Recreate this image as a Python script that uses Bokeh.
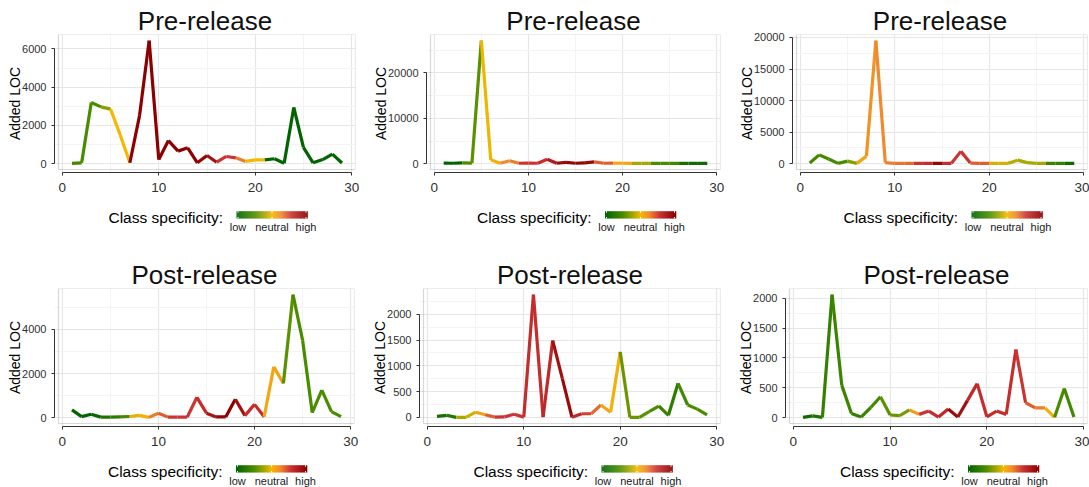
import numpy as np
from bokeh.plotting import figure
from bokeh.layouts import column, row
from bokeh.models import Range1d, FixedTicker, BoxAnnotation, Title
from bokeh.embed import file_html
from bokeh.resources import INLINE
from bokeh.core.properties import value

# ---------------- data ----------------
x_days = list(range(1, 30))

pre1_loc = [20, 50, 3200, 2970, 2850, 1500, 50, 2500, 6430, 220, 1210, 660, 830, 50, 430,
            80, 380, 310, 120, 200, 200, 260, 30, 2940, 860, 50, 220, 500, 40]
pre1_spec = [-0.55, -0.5, -0.5, -0.3, 0.0, 0.0, 1.0, 1.0, 1.0, 1.0, 1.0, 1.0, 1.0, 0.95, 0.85,
             0.55, 0.55, 0.3, 0.0, 0.0, -1.0, -1.0, -1.0, -1.0, -1.0, -1.0, -1.0, -1.0, -1.0]

pre2_loc = [150, 100, 200, 150, 27100, 870, 100, 650, 100, 150, 100, 1000, 100, 300, 100,
            200, 400, 100, 150, 100, 80, 80, 80, 80, 80, 80, 80, 80, 80]
pre2_spec = [-1.0, -1.0, -0.5, -0.45, -0.02, 0.05, 0.25, 0.3, 0.55, 0.55, 0.6, 0.75, 0.9, 0.95, 0.95,
             0.9, 0.4, 0.4, 0.1, 0.1, -0.2, -0.2, -0.5, -0.5, -0.55, -0.85, -0.9, -0.9, -0.9]

pre3_loc = [100, 1400, 750, 50, 400, 50, 1200, 19500, 150, 50, 50, 50, 50, 50, 50,
            50, 1950, 100, 50, 50, 50, 50, 560, 170, 50, 50, 50, 50, 50]
pre3_spec = [-0.55, -0.55, -0.55, -0.5, -0.3, 0.1, 0.2, 0.25, 0.3, 0.32, 0.35, 0.55, 0.6, 0.95, 0.6,
             0.55, 0.55, 0.4, 0.4, -0.08, -0.08, -0.15, -0.2, -0.2, -0.2, -0.6, -0.65, -0.9, -0.9]

post1_loc = [350, 45, 150, 20, 20, 30, 50, 100, 10, 200, 20, 20, 20, 920, 200,
             30, 30, 830, 90, 600, 40, 2300, 1550, 5580, 3510, 230, 1250, 270, 40]
post1_spec = [-1.0, -1.0, -0.95, -0.8, -0.7, -0.55, -0.05, 0.05, 0.3, 0.4, 0.55, 0.55, 0.55, 0.6, 0.8,
              0.95, 1.0, 0.85, 0.6, 0.6, 0.1, 0.12, -0.45, -0.5, -0.5, -0.5, -0.5, -0.5, -0.5]

post2_loc = [20, 40, 0, 0, 100, 50, 5, 10, 60, 5, 2380, 5, 1490, 750, 0,
             70, 70, 240, 100, 1270, 0, 0, 110, 220, 40, 660, 240, 160, 50]
post2_spec = [-0.85, -0.75, -0.2, -0.1, 0.12, 0.4, 0.55, 0.55, 0.55, 0.6, 0.6, 0.65, 0.85, 0.9, 0.65,
              0.5, 0.35, 0.12, 0.05, -0.4, -0.4, -0.45, -0.5, -0.6, -0.7, -0.55, -0.5, -0.5, -0.5]

post3_loc = [5, 30, 5, 2060, 545, 70, 10, 170, 350, 45, 35, 130, 55, 110, 10,
             145, 10, 290, 570, 15, 110, 55, 1140, 250, 165, 165, 5, 490, 10]
post3_spec = [-0.9, -0.8, -0.65, -0.6, -0.6, -0.65, -0.6, -0.55, -0.45, -0.4, -0.35, 0.15, 0.55, 0.6, 0.65,
              0.9, 0.85, 0.65, 0.6, 0.6, 0.6, 0.6, 0.55, 0.4, 0.3, 0.05, -0.5, -0.55, -0.55]

x_ticks = [0, 10, 20, 30]
x_minor = [5, 15, 25]
pre1_yticks, pre1_yminor = [0, 2000, 4000, 6000], [1000, 3000, 5000]
pre2_yticks, pre2_yminor = [0, 10000, 20000], [5000, 15000, 25000]
pre3_yticks, pre3_yminor = [0, 5000, 10000, 15000, 20000], [2500, 7500, 12500, 17500]
post1_yticks, post1_yminor = [0, 2000, 4000], [1000, 3000, 5000]
post2_yticks, post2_yminor = [0, 500, 1000, 1500, 2000], [250, 750, 1250, 1750, 2250]
post3_yticks, post3_yminor = [0, 500, 1000, 1500, 2000], [250, 750, 1250, 1750]

legend_labels = ["low", "neutral", "high"]

# ---------------- styling helpers ----------------
FONT = "Liberation Sans"
STOPS = [(-1.0, (0, 100, 0)), (-0.5, (74, 140, 0)), (-0.2, (168, 168, 0)), (0.0, (245, 184, 0)),
         (0.25, (240, 138, 44)), (0.55, (204, 51, 51)), (1.0, (139, 0, 0))]


def spec_color(s):
    s = max(-1.0, min(1.0, s))
    for (a, ca), (b, cb) in zip(STOPS[:-1], STOPS[1:]):
        if s <= b:
            t = (s - a) / (b - a)
            c = tuple(int(round(ca[i] + t * (cb[i] - ca[i]))) for i in range(3))
            return "#%02x%02x%02x" % c
    return "#8b0000"


CELL_W = 363


def main_fig(title, loc, spec, yticks, yminor, box_l, box_r, top_pad):
    bottom_pad = 28
    frame_h = 138
    H = top_pad + frame_h + bottom_pad
    frame_l = box_l - 4
    xs = np.array(x_days, float)
    ys = np.array(loc, float)
    xlo = xs.min() - 0.05 * (xs.max() - xs.min())
    xhi = xs.max() + 0.05 * (xs.max() - xs.min())
    ylo = ys.min() - 0.05 * (ys.max() - ys.min())
    yhi = ys.max() + 0.05 * (ys.max() - ys.min())
    box_w = box_r - box_l
    x_start = xlo - 4 * (xhi - xlo) / box_w
    y_start = ylo - 3 * (yhi - ylo) / (frame_h - 3)

    ttl = Title(text=title, text_font=FONT, text_font_size="26px", text_font_style="normal",
                align="center", text_color="#111111", standoff=-3)
    p = figure(width=CELL_W, height=H, x_range=Range1d(x_start, xhi), y_range=Range1d(y_start, yhi),
               output_backend="svg", toolbar_location=None, title=ttl,
               min_border_left=frame_l, min_border_right=CELL_W - box_r,
               min_border_top=top_pad, min_border_bottom=bottom_pad,
               outline_line_color=None, background_fill_color="white")

    # grid
    p.xaxis.ticker = FixedTicker(ticks=x_ticks, minor_ticks=x_minor)
    p.yaxis.ticker = FixedTicker(ticks=yticks, minor_ticks=yminor)
    for g in (p.xgrid, p.ygrid):
        g.grid_line_color = "#e6e6e6"
        g.grid_line_width = 1.2
        g.minor_grid_line_color = "#f4f4f4"
        g.minor_grid_line_width = 1

    # panel border
    p.add_layout(BoxAnnotation(left=xlo, right=xhi, bottom=ylo, top=yhi, fill_alpha=0,
                               line_color="#7f7f7f", line_width=1.2, level="underlay"))

    # line segments coloured by class specificity
    cols = [spec_color(s) for s in spec[:-1]]
    p.segment(x0=xs[:-1], y0=ys[:-1], x1=xs[1:], y1=ys[1:], line_color=cols, line_width=3.2)

    # axes
    p.xaxis.bounds = (x_ticks[0], x_ticks[-1])
    p.yaxis.bounds = (yticks[0], yticks[-1])
    for ax in (p.xaxis[0], p.yaxis[0]):
        ax.axis_line_color = "#333333"
        ax.major_tick_line_color = "#333333"
        ax.major_tick_in = 0
        ax.major_tick_out = 3
        ax.minor_tick_line_color = None
        ax.major_label_text_font = FONT
        ax.major_label_text_color = "#303030"
        ax.major_label_standoff = 4
    p.xaxis.major_label_standoff = 6
    p.xaxis.major_label_text_font_size = "13.5px"
    p.yaxis.major_label_text_font_size = "11px"
    p.yaxis.axis_label = "Added LOC"
    p.yaxis.axis_label_text_font = FONT
    p.yaxis.axis_label_text_font_size = "14px"
    p.yaxis.axis_label_text_font_style = "normal"
    p.yaxis.axis_label_text_color = "black"
    p.yaxis.axis_label_standoff = -4
    return p


def legend_fig(height, box_l, box_r):
    frame_l = box_l - 4
    cx = (box_l + box_r) / 2.0
    lf = figure(width=CELL_W, height=height, x_range=Range1d(frame_l, box_r), y_range=Range1d(height, 0),
                output_backend="svg", toolbar_location=None, x_axis_type=None, y_axis_type=None,
                min_border_left=frame_l, min_border_right=CELL_W - box_r,
                min_border_top=0, min_border_bottom=0, outline_line_color=None)
    lf.grid.visible = False
    lf.text(x=[cx + 16], y=[17.3], text=["Class specificity:"], text_font=value(FONT),
            text_font_size=value("15.5px"), text_align="right", text_baseline="middle",
            text_color="black")
    bl, br = cx + 29.5, cx + 100.5
    n = 71
    edges = np.linspace(bl, br, n + 1)
    tvals = np.linspace(-1, 1, n)
    lf.quad(left=edges[:-1], right=edges[1:] + 0.3, top=10.7, bottom=18,
            fill_color=[spec_color(t) for t in tvals], line_color=None)
    tick_x = [bl + 1.5, (bl + br) / 2, br - 1.5]
    lf.segment(x0=tick_x, x1=tick_x, y0=[10.7] * 3, y1=[12.2] * 3, line_color="white", line_width=1)
    lf.segment(x0=tick_x, x1=tick_x, y0=[16.5] * 3, y1=[18] * 3, line_color="white", line_width=1)
    lf.text(x=tick_x, y=[26.5] * 3, text=legend_labels, text_font=value(FONT),
            text_font_size=value("11px"), text_align="center", text_baseline="middle",
            text_color="#1a1a1a")
    return lf


panels = [
    ("Pre-release", pre1_loc, pre1_spec, pre1_yticks, pre1_yminor, 58, 355),
    ("Pre-release", pre2_loc, pre2_spec, pre2_yticks, pre2_yminor, 67, 357),
    ("Pre-release", pre3_loc, pre3_spec, pre3_yticks, pre3_yminor, 70, 361),
    ("Post-release", post1_loc, post1_spec, post1_yticks, post1_yminor, 58, 354),
    ("Post-release", post2_loc, post2_spec, post2_yticks, post2_yminor, 60, 357),
    ("Post-release", post3_loc, post3_spec, post3_yticks, post3_yminor, 63, 361),
]

rows = []
for r in range(2):
    cells = []
    for c in range(3):
        t, loc, spec, yt, ym, bl, br = panels[r * 3 + c]
        top_pad = 34 if r == 0 else 45
        leg_h = 43 if r == 0 else 33
        m = main_fig(t, loc, spec, yt, ym, bl, br, top_pad)
        lg = legend_fig(leg_h, bl, br)
        cells.append(column(m, lg, spacing=0))
    rows.append(row(*cells, spacing=0))
layout = column(*rows, spacing=0)

open("out.html", "w").write(file_html(layout, INLINE))
